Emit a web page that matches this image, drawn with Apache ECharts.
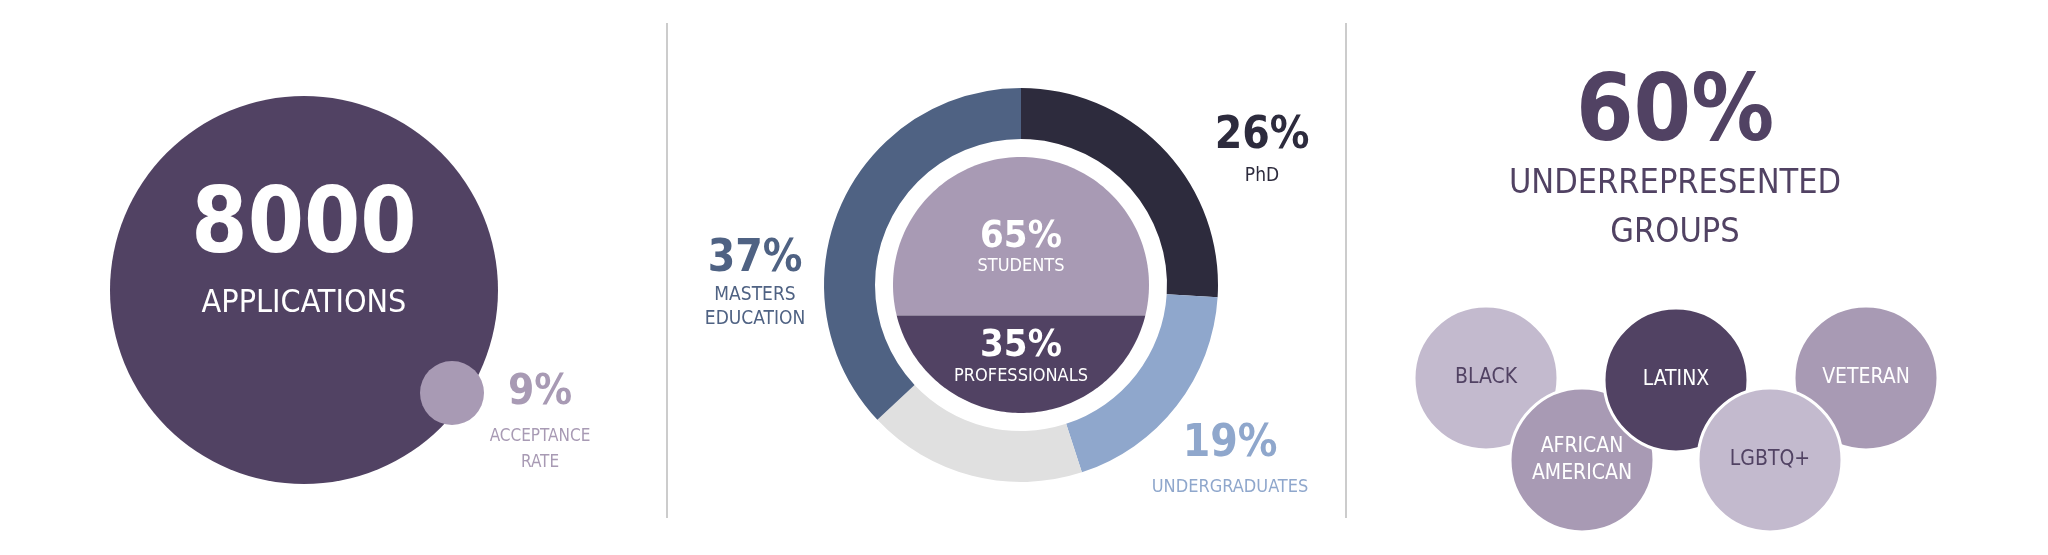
<!DOCTYPE html>
<html><head><meta charset="utf-8">
<script src="https://cdn.jsdelivr.net/npm/echarts@6/dist/echarts.min.js"></script>
<style>html,body{margin:0;padding:0;background:#fff}#c{width:2048px;height:555px}</style>
</head><body><div id="c"></div>
<script>
// ---- data ----
const applications = 8000;
const acceptanceRate = 9;
const degreeNames = ['PhD', 'UNDERGRADUATES', 'OTHER', 'MASTERS EDUCATION'];
const degreeValues = [26, 19, 18, 37];
const audienceNames = ['STUDENTS', 'PROFESSIONALS'];
const audienceValues = [65, 35];
const underrepresented = 60;
const groupNames = ['BLACK', 'VETERAN', 'AFRICAN\nAMERICAN', 'LATINX', 'LGBTQ+'];

// ---- layout / style ----
const F = '"DejaVu Sans Condensed","Liberation Sans Narrow","Liberation Sans",sans-serif';
const groupPos = [[1486,378],[1866,378],[1582,460],[1676,380],[1770,460]];
const groupColors = ['#c3bace','#a89ab4','#a89ab4','#514263','#c3bace'];
const groupText = ['#514263','#fff','#fff','#fff','#514263'];
const degreeColors = ['#2d2b3d','#8fa7cc','#e0e0e0','#4f6283'];
const DC = [1021, 285];

function txt(x, y, text, size, color, bold) {
  return {type:'text', x:x, y:y, z:100, style:{text:text, fill:color, font:(bold?'bold ':'')+size+'px '+F, textAlign:'center', textVerticalAlign:'middle', lineHeight:size*1.3}};
}
function solveTheta(f){
  let lo=0, hi=2*Math.PI;
  for(let i=0;i<60;i++){const m=(lo+hi)/2; if((m-Math.sin(m))/(2*Math.PI)<f) lo=m; else hi=m;}
  return lo;
}
const chart = echarts.init(document.getElementById('c'));
chart.setOption({
  animation:false,
  grid:{left:0,right:0,top:0,bottom:0},
  xAxis:{type:'value',min:0,max:2048,show:false},
  yAxis:{type:'value',min:0,max:555,inverse:true,show:false},
  series:[
    {type:'scatter', symbol:'circle', silent:true, z:1,
     data:[{value:[304,290], symbolSize:388, itemStyle:{color:'#514263', opacity:1}},
           {value:[452,393], symbolSize:64, itemStyle:{color:'#a89ab4', opacity:1}}]},
    {type:'pie', center:DC, radius:[146,197], startAngle:90, clockwise:true, silent:true,
     label:{show:false}, labelLine:{show:false},
     data:degreeNames.map((n,i)=>({name:n, value:degreeValues[i], itemStyle:{color:degreeColors[i]}}))},
    {type:'custom', silent:true, z:3,
     data:[[DC[0], DC[1], 128, audienceValues[1]/(audienceValues[0]+audienceValues[1])]],
     renderItem:function(params, api){
       const c = api.coord([api.value(0), api.value(1)]);
       const R = api.size([api.value(2),0])[0];
       const a = solveTheta(api.value(3))/2;
       const arc=(t0,t1)=>{const p=[];const n=120;for(let i=0;i<=n;i++){const t=t0+(t1-t0)*i/n;p.push([c[0]+R*Math.sin(t), c[1]+R*Math.cos(t)]);}return p;};
       return {type:'group', children:[
         {type:'polygon', shape:{points:arc(a, 2*Math.PI-a)}, style:{fill:'#a89ab4'}},
         {type:'polygon', shape:{points:arc(-a, a)}, style:{fill:'#514263'}}
       ]};
     }},
    {type:'scatter', symbol:'circle', symbolSize:144, silent:true, z:4,
     itemStyle:{borderColor:'#fff', borderWidth:3, opacity:1},
     label:{show:true, position:'inside', fontFamily:F, fontSize:21, lineHeight:27},
     data:groupNames.map((n,i)=>({name:n, value:groupPos[i], itemStyle:{color:groupColors[i], opacity:1},
       label:{formatter:n, color:groupText[i]}}))}
  ],
  graphic:[
    {type:'line', shape:{x1:667,y1:23,x2:667,y2:518}, style:{stroke:'#cccccc',lineWidth:2}},
    {type:'line', shape:{x1:1346,y1:23,x2:1346,y2:518}, style:{stroke:'#cccccc',lineWidth:2}},
    txt(304, 229, String(applications), 90, '#fff', true),
    txt(304, 304, 'APPLICATIONS', 32, '#fff', false),
    txt(540, 393, acceptanceRate+'%', 42, '#a89ab4', true),
    txt(540, 437, 'ACCEPTANCE', 17, '#a89ab4', false),
    txt(540, 463, 'RATE', 17, '#a89ab4', false),
    txt(1262, 137, degreeValues[0]+'%', 44, '#2d2b3d', true),
    txt(1262, 176, degreeNames[0], 19, '#2d2b3d', false),
    txt(755, 260, degreeValues[3]+'%', 44, '#4f6283', true),
    txt(755, 307, 'MASTERS\nEDUCATION', 19, '#4f6283', false),
    txt(1230, 445, degreeValues[1]+'%', 44, '#8fa7cc', true),
    txt(1230, 487, degreeNames[1], 18, '#8fa7cc', false),
    txt(1021, 237, audienceValues[0]+'%', 38, '#fff', true),
    txt(1021, 266, audienceNames[0], 18, '#fff', false),
    txt(1021, 346, audienceValues[1]+'%', 38, '#fff', true),
    txt(1021, 376, audienceNames[1], 18, '#fff', false),
    txt(1675, 116, underrepresented+'%', 92, '#514263', true),
    txt(1675, 184, 'UNDERREPRESENTED', 34, '#514263', false),
    txt(1675, 233, 'GROUPS', 34, '#514263', false)
  ]
});
</script></body></html>
